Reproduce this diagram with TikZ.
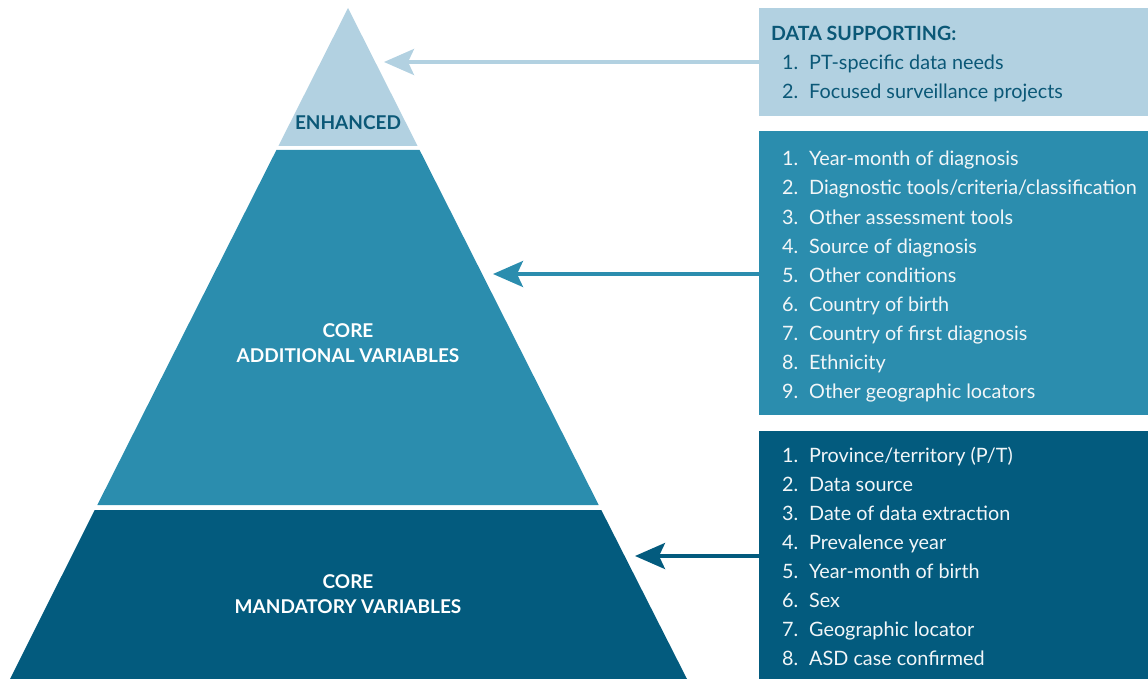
\documentclass[tikz,border=0pt]{standalone}
\usepackage{fontspec}
\setmainfont{Lato}
\usetikzlibrary{arrows.meta, positioning}
\definecolor{pale}{HTML}{B2D1E1}
\definecolor{mid}{HTML}{2B8DAE}
\definecolor{deep}{HTML}{035B7E}
\definecolor{ink}{HTML}{0B5877}
\definecolor{snow}{HTML}{F2F6F8}
\tikzset{
  itm/.style={anchor=base west, inner sep=0pt, font=\fontsize{19.8}{23}\selectfont},
  lvl/.style={align=center, inner sep=0pt, font=\bfseries\fontsize{19}{24.5}\selectfont},
  panel/.style={anchor=north west, inner sep=0pt, minimum width=389pt},
  arr/.style={line width=3.5pt, -{Stealth[length=30pt, width=26pt, inset=6pt]}}
}

\begin{document}
\begin{tikzpicture}[x=1pt, y=-1pt]
    \useasboundingbox (0,0) rectangle (1148,679);

    % pyramid bands
    \fill[pale](348,8)--(417.6,146)--(278.4,146)--cycle;
    \fill[mid](276.4,150)--(419.6,150)--(598.7,505)--(97.3,505)--cycle;
    \fill[deep](94.7,510)--(601.3,510)--(687,679)--(10,679)--cycle;
    \node[lvl, text=ink] (enh) at (348,123) {ENHANCED};
    \node[lvl, text=white] (add) at (348,343) {CORE\\ADDITIONAL VARIABLES};
    \node[lvl, text=white] (man) at (348,594) {CORE\\MANDATORY VARIABLES};

    % panels
    \node[panel, fill=pale, minimum height=108pt] (boxE) at (759,8) {};
    \node[panel, fill=mid, minimum height=284pt] (boxA) at (759,131) {};
    \node[panel, fill=deep, minimum height=248pt] (boxM) at (759,431) {};

    \node[itm, text=ink, font=\bfseries\fontsize{19.6}{23}\selectfont] (head) at (771,41) {DATA SUPPORTING:};
    \foreach \t [count=\k] in {{PT-specific data needs}, {Focused surveillance projects}}
        \node[itm, text=ink] (eN\k) at (782,{41+29*\k}) {\k.}
            node[itm, text=ink] (e\k) at (809,{41+29*\k}) {\t};
    \foreach \t [count=\k] in {{Year-month of diagnosis}, {Diagnostic tools/criteria/classification},
        {Other assessment tools}, {Source of diagnosis}, {Other conditions}, {Country of birth},
        {Country of first diagnosis}, {Ethnicity}, {Other geographic locators}}
        \node[itm, text=snow] (aN\k) at (782,{137+29*\k}) {\k.}
            node[itm, text=snow] (a\k) at (809,{137+29*\k}) {\t};
    \foreach \t [count=\k] in {{Province/territory (P/T)}, {Data source}, {Date of data extraction},
        {Prevalence year}, {Year-month of birth}, {Sex}, {Geographic locator}, {ASD case confirmed}}
        \node[itm, text=snow] (mN\k) at (782,{433+29*\k}) {\k.}
            node[itm, text=snow] (m\k) at (809,{433+29*\k}) {\t};

    % arrows
    \coordinate (tipE) at (384,62);
    \coordinate (tipA) at (493,274);
    \coordinate (tipM) at (635,556);
    \draw[arr, pale] (boxE.west |- tipE) -- (tipE);
    \draw[arr, mid] (boxA.west |- tipA) -- (tipA);
    \draw[arr, deep] (boxM.west |- tipM) -- (tipM);
\end{tikzpicture}
\end{document}
